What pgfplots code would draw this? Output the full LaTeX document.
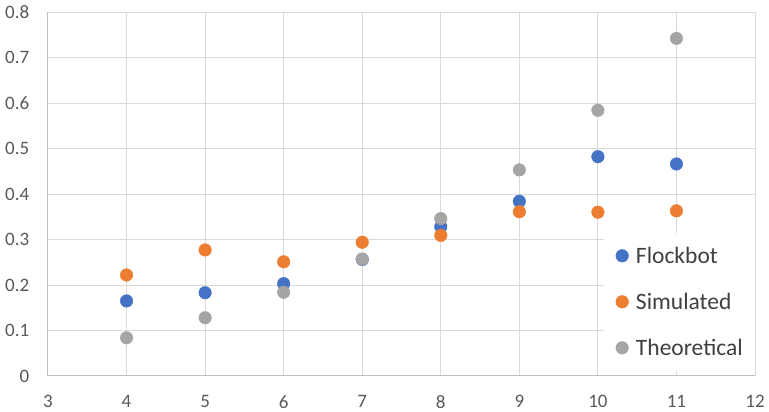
\documentclass[border=0pt]{standalone}
\usepackage{pgfplots}
\pgfplotsset{compat=1.18}
\usepackage{fontspec}
\setmainfont{Carlito}
\definecolor{cBlue}{HTML}{4472C4}
\definecolor{cOrange}{HTML}{ED7D31}
\definecolor{cGray}{HTML}{A5A5A5}
\definecolor{gridc}{HTML}{D9D9D9}
\definecolor{axisc}{HTML}{BFBFBF}
\definecolor{labc}{HTML}{595959}
\definecolor{legc}{HTML}{404040}
\begin{document}
\begin{tikzpicture}
\path[use as bounding box] (-48pt,-36pt) rectangle (721pt,376pt);
\begin{axis}[
  scale only axis,
  width=707pt, height=364pt,
  xmin=3, xmax=12, ymin=0, ymax=0.8,
  enlargelimits=false,
  xtick={3,4,5,6,7,8,9,10,11,12},
  ytick={0,0.1,0.2,0.3,0.4,0.5,0.6,0.7,0.8},
  yticklabels={0,0.1,0.2,0.3,0.4,0.5,0.6,0.7,0.8},
  axis x line=bottom, axis y line=left,
  axis line style={-, color=axisc, line width=1pt},
  major tick length=0pt,
  grid=major,
  grid style={color=gridc, line width=1pt},
  /pgf/number format/assume math mode=true,
  tick label style={font=\fontsize{19}{22}\selectfont, color=labc, inner sep=0pt},
  xticklabel style={yshift=-19pt},
  yticklabel style={xshift=-18.5pt},
  legend cell align=left,
  legend style={at={(axis cs:12,0)}, anchor=south east, yshift=5pt,
    draw=none, fill=white, inner xsep=12pt, inner ysep=0pt, row sep=0pt,
    font=\fontsize{23.5}{26}\selectfont, text=legc,
    nodes={inner sep=0pt, text height=30.6pt, text depth=15.4pt},
    /tikz/every odd column/.append style={column sep=7.5pt}},
  legend image code/.code={\draw[#1] plot coordinates {(0pt,0pt)};},
]
\addplot[only marks, mark=*, mark size=6.3pt, color=cBlue, mark options={fill=cBlue, draw=cBlue}]
  coordinates {(4,0.165) (5,0.183) (6,0.203) (7,0.256) (8,0.328) (9,0.384) (10,0.482) (11,0.466)};
\addplot[only marks, mark=*, mark size=6.3pt, color=cOrange, mark options={fill=cOrange, draw=cOrange}]
  coordinates {(4,0.222) (5,0.277) (6,0.251) (7,0.294) (8,0.309) (9,0.361) (10,0.360) (11,0.363)};
\addplot[only marks, mark=*, mark size=6.3pt, color=cGray, mark options={fill=cGray, draw=cGray}]
  coordinates {(4,0.084) (5,0.128) (6,0.184) (7,0.257) (8,0.346) (9,0.453) (10,0.584) (11,0.742)};
\legend{Flockbot,Simulated,Theoretical}
\end{axis}
\end{tikzpicture}
\end{document}
